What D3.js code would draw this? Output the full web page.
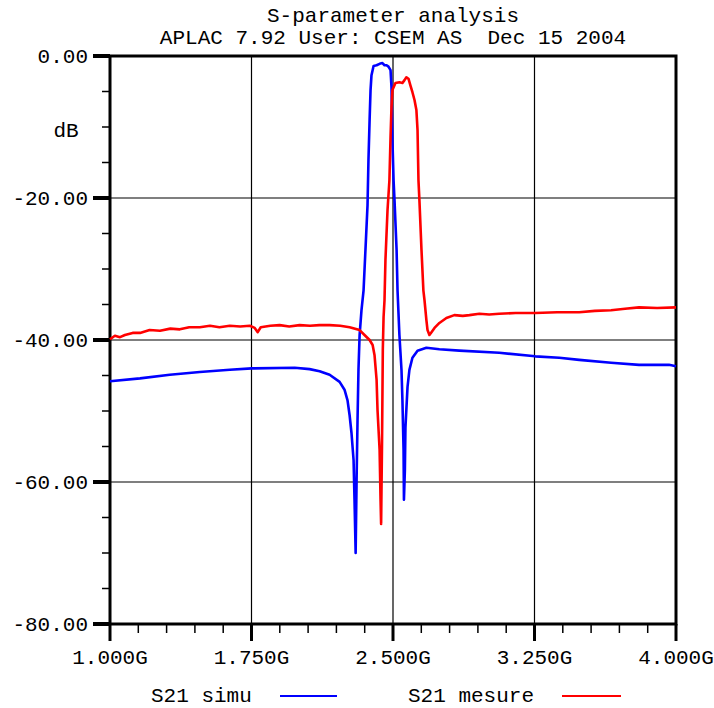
<!DOCTYPE html>
<html>
<head>
<meta charset="utf-8">
<script src="https://cdn.jsdelivr.net/npm/d3@7"></script>
<style>
  html, body { margin: 0; padding: 0; background: #fff; }
  svg { display: block; }
  text { font-family: "Liberation Mono", "DejaVu Sans Mono", monospace; fill: #000; }
</style>
</head>
<body>
<svg id="chart" width="714" height="708"></svg>
<script>
// S21 transmission, frequency in GHz, magnitude in dB
const simuFreq = [1.000,1.159,1.317,1.476,1.635,1.751,1.979,2.058,2.111,2.164,2.217,2.243,2.259,2.270,2.280,2.291,2.296,2.302,2.307,2.312,2.317,2.323,2.333,2.344,2.354,2.365,2.370,2.376,2.381,2.386,2.397,2.413,2.429,2.444,2.455,2.466,2.476,2.487,2.492,2.497,2.503,2.508,2.519,2.524,2.534,2.545,2.550,2.556,2.558,2.563,2.566,2.577,2.587,2.603,2.630,2.677,2.746,2.852,3.063,3.254,3.381,3.487,3.656,3.804,3.963,4.000];
const simuDb = [-45.8,-45.4,-44.9,-44.5,-44.2,-44.0,-43.9,-44.1,-44.4,-44.9,-45.9,-47.0,-48.5,-50.6,-53.1,-56.9,-62.5,-70.0,-59.7,-51.3,-44.2,-39.3,-35.8,-33.0,-27.3,-21.0,-14.6,-9.0,-4.8,-2.7,-1.4,-1.3,-1.1,-1.0,-1.3,-1.3,-1.5,-2.0,-4.4,-11.8,-17.5,-20.3,-27.3,-33.0,-39.3,-44.2,-48.5,-55.5,-62.5,-58.3,-52.3,-46.6,-44.2,-42.5,-41.5,-41.1,-41.3,-41.5,-41.8,-42.3,-42.5,-42.8,-43.2,-43.5,-43.5,-43.7];

const mesureFreq = [1.000,1.026,1.053,1.079,1.120,1.159,1.210,1.265,1.320,1.370,1.420,1.476,1.530,1.580,1.635,1.690,1.741,1.767,1.783,1.799,1.850,1.899,1.950,2.005,2.060,2.110,2.164,2.220,2.270,2.323,2.349,2.376,2.392,2.402,2.413,2.418,2.429,2.434,2.437,2.442,2.446,2.450,2.455,2.460,2.471,2.481,2.487,2.492,2.497,2.513,2.534,2.550,2.561,2.571,2.582,2.593,2.603,2.614,2.624,2.630,2.635,2.640,2.651,2.661,2.667,2.677,2.683,2.693,2.704,2.720,2.746,2.783,2.825,2.870,2.905,2.958,3.010,3.063,3.150,3.254,3.370,3.487,3.570,3.656,3.730,3.804,3.900,4.000];
const mesureDb = [-39.9,-39.4,-39.6,-39.3,-39.0,-39.0,-38.6,-38.7,-38.4,-38.5,-38.2,-38.2,-38.0,-38.2,-38.0,-38.1,-38.0,-38.3,-38.9,-38.2,-38.0,-37.9,-38.1,-37.9,-38.0,-37.9,-37.9,-38.0,-38.2,-38.6,-39.3,-40.0,-40.7,-42.1,-45.6,-49.9,-55.5,-62.5,-65.9,-54.1,-41.4,-36.8,-34.4,-28.7,-21.7,-17.5,-11.4,-7.2,-4.8,-3.8,-3.7,-3.8,-3.4,-3.0,-3.2,-4.2,-5.1,-6.2,-7.6,-10.4,-17.5,-20.3,-27.3,-33.0,-34.4,-37.2,-38.6,-39.3,-38.9,-38.3,-37.6,-36.9,-36.5,-36.6,-36.5,-36.3,-36.4,-36.3,-36.2,-36.2,-36.1,-36.1,-35.9,-35.8,-35.6,-35.4,-35.5,-35.4];

const xTickValues = [1.0, 1.75, 2.5, 3.25, 4.0];
const xTickLabels = ["1.000G", "1.750G", "2.500G", "3.250G", "4.000G"];
const yTickValues = [0, -20, -40, -60, -80];
const yTickLabels = ["0.00", "-20.00", "-40.00", "-60.00", "-80.00"];
const titleLines = ["S-parameter analysis", "APLAC 7.92 User: CSEM AS  Dec 15 2004"];
const seriesNames = ["S21 simu", "S21 mesure"];
const seriesColors = ["#0000ff", "#ff0000"];

const svg = d3.select("#chart");
const plotLeft = 110, plotRight = 676, plotTop = 56, plotBottom = 624;

const x = d3.scaleLinear().domain([1.0, 4.0]).range([plotLeft, plotRight]);
const y = d3.scaleLinear().domain([0, -80]).range([plotTop, plotBottom]);

// titles
svg.selectAll("text.title").data(titleLines).join("text")
  .attr("class", "title")
  .attr("x", 393).attr("y", (d, i) => 22 + i * 22)
  .attr("text-anchor", "middle")
  .style("font-size", "21px")
  .style("white-space", "pre")
  .text(d => d);

// grid
const grid = svg.append("g");
grid.selectAll("line.gx").data(xTickValues.slice(1, -1)).join("line")
  .attr("x1", d => x(d)).attr("x2", d => x(d))
  .attr("y1", plotTop).attr("y2", plotBottom)
  .attr("stroke", "#000").attr("stroke-width", 1.2);
grid.selectAll("line.gy").data(yTickValues.slice(1, -1)).join("line")
  .attr("x1", plotLeft).attr("x2", plotRight)
  .attr("y1", d => y(d)).attr("y2", d => y(d))
  .attr("stroke", "#000").attr("stroke-width", 1.2);

// minor ticks
const yMinor = d3.range(0, -81, -5).filter(v => v % 20 !== 0);
svg.append("g").selectAll("line").data(yMinor).join("line")
  .attr("x1", plotLeft - 8).attr("x2", plotLeft)
  .attr("y1", d => y(d)).attr("y2", d => y(d))
  .attr("stroke", "#000").attr("stroke-width", 1.5);
const xMinor = d3.range(1, 20).map(i => 1 + i * 0.15).filter(v => Math.abs((v - 1) / 0.75 - Math.round((v - 1) / 0.75)) > 0.01);
svg.append("g").selectAll("line").data(xMinor).join("line")
  .attr("x1", d => x(d)).attr("x2", d => x(d))
  .attr("y1", plotBottom).attr("y2", plotBottom + 9)
  .attr("stroke", "#000").attr("stroke-width", 1.5);

// major ticks
svg.append("g").selectAll("line").data(yTickValues).join("line")
  .attr("x1", plotLeft - 17).attr("x2", plotLeft)
  .attr("y1", d => y(d)).attr("y2", d => y(d))
  .attr("stroke", "#000").attr("stroke-width", 4);
svg.append("g").selectAll("line").data(xTickValues).join("line")
  .attr("x1", d => x(d)).attr("x2", d => x(d))
  .attr("y1", plotBottom).attr("y2", plotBottom + 17)
  .attr("stroke", "#000").attr("stroke-width", 3);

// frame
svg.append("rect")
  .attr("x", plotLeft).attr("y", plotTop)
  .attr("width", plotRight - plotLeft).attr("height", plotBottom - plotTop)
  .attr("fill", "none").attr("stroke", "#000").attr("stroke-width", 3);

// tick labels
svg.append("g").selectAll("text").data(yTickValues).join("text")
  .attr("x", 88).attr("y", d => y(d) + 7)
  .attr("text-anchor", "end")
  .style("font-size", "21px")
  .text((d, i) => yTickLabels[i]);
svg.append("g").selectAll("text").data(xTickValues).join("text")
  .attr("x", d => x(d)).attr("y", 664)
  .attr("text-anchor", "middle")
  .style("font-size", "21px")
  .text((d, i) => xTickLabels[i]);

svg.append("text").attr("x", 66).attr("y", 137)
  .attr("text-anchor", "middle").style("font-size", "21px").text("dB");

// curves
const line = d3.line().x(d => x(d[0])).y(d => y(d[1]));
const simu = simuFreq.map((f, i) => [f, simuDb[i]]);
const mesure = mesureFreq.map((f, i) => [f, mesureDb[i]]);
const plot = svg.append("g");
plot.append("path").datum(simu).attr("d", line)
  .attr("fill", "none").attr("stroke", seriesColors[0]).attr("stroke-width", 2.6)
  .attr("stroke-linejoin", "round");
plot.append("path").datum(mesure).attr("d", line)
  .attr("fill", "none").attr("stroke", seriesColors[1]).attr("stroke-width", 2.6)
  .attr("stroke-linejoin", "round");

// legend
const legendPos = [{tx: 151, lx1: 280, lx2: 337}, {tx: 408, lx1: 562, lx2: 621}];
const legend = svg.append("g");
seriesNames.forEach((name, i) => {
  legend.append("text").attr("x", legendPos[i].tx).attr("y", 702)
    .style("font-size", "21px").text(name);
  legend.append("line")
    .attr("x1", legendPos[i].lx1).attr("x2", legendPos[i].lx2)
    .attr("y1", 696).attr("y2", 696)
    .attr("stroke", seriesColors[i]).attr("stroke-width", 2);
});
</script>
</body>
</html>
